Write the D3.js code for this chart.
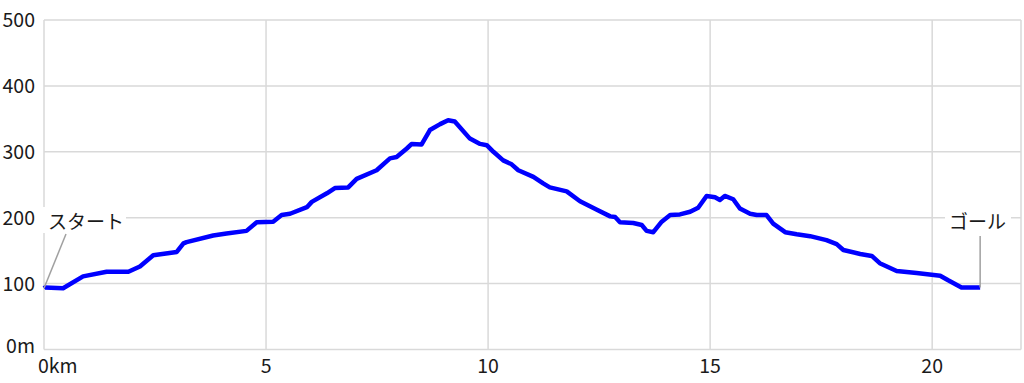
<!DOCTYPE html>
<html>
<head>
<meta charset="utf-8">
<script src="https://cdn.jsdelivr.net/npm/d3@7"></script>
<style>
  body { margin: 0; background: #fff; }
  text { font-family: "Noto Sans CJK JP", "DejaVu Sans", sans-serif; fill: #1a1a1a; }
</style>
</head>
<body>
<div id="chart"></div>
<script>
// course profile: distance (km) and elevation (m)
var distKm = [0, 0.02, 0.43, 0.88, 1.41, 1.90, 2.16, 2.46, 2.99, 3.14, 3.21, 3.81, 4.11, 4.56, 4.79,
  5.16, 5.35, 5.54, 5.92, 6.03, 6.37, 6.55, 6.85, 7.04, 7.49, 7.79, 7.94, 8.17, 8.28, 8.50,
  8.69, 8.92, 9.10, 9.25, 9.59, 9.82, 9.97, 10.12, 10.34, 10.53, 10.68, 11.02, 11.24, 11.39,
  11.77, 12.07, 12.45, 12.75, 12.86, 12.97, 13.27, 13.46, 13.57, 13.72, 13.91, 14.10, 14.32,
  14.55, 14.73, 14.92, 15.11, 15.22, 15.33, 15.52, 15.67, 15.90, 16.05, 16.27, 16.42, 16.69,
  16.95, 17.25, 17.62, 17.85, 18.00, 18.38, 18.64, 18.82, 19.20, 19.65, 20.18, 20.36, 20.66, 21.08]
var elevM = [93, 94, 93, 111, 118, 118, 126, 143, 148, 161, 163, 173, 176, 180, 193,
  194, 204, 206, 216, 224, 237, 245, 246, 259, 272, 290, 292, 305, 312, 311,
  333, 342, 348, 346, 320, 312, 310, 300, 287, 281, 272, 262, 252, 246,
  240, 225, 212, 202, 201, 193, 192, 189, 180, 178, 194, 204, 205,
  209, 215, 233, 231, 227, 233, 228, 214, 206, 204, 204, 191, 178,
  175, 172, 166, 160, 151, 145, 142, 131, 119, 116, 112, 105, 94, 94]

var yTicks = [0, 100, 200, 300, 400, 500]
var yTickLabels = ["0m", "100", "200", "300", "400", "500"]
var xTicks = [0, 5, 10, 15, 20]
var xTickLabels = ["0km", "5", "10", "15", "20"]
var startLabel = "スタート"
var goalLabel = "ゴール"

var width = 1024, height = 383
var plotLeft = 44, plotRight = 1021, plotTop = 20, plotBottom = 349.5

var svg = d3.select("#chart").append("svg")
  .attr("width", width)
  .attr("height", height)

var x = d3.scaleLinear().domain([0, 22]).range([plotLeft, plotRight])
var y = d3.scaleLinear().domain([0, 500]).range([plotBottom, plotTop])

// grid
svg.append("g").selectAll("line")
  .data(yTicks)
  .join("line")
    .attr("x1", plotLeft).attr("x2", plotRight)
    .attr("y1", function(d){ return y(d) }).attr("y2", function(d){ return y(d) })
    .attr("stroke", "#d9d9d9").attr("stroke-width", 1.5)
svg.append("g").selectAll("line")
  .data(xTicks.concat([22]))
  .join("line")
    .attr("y1", plotTop).attr("y2", plotBottom)
    .attr("x1", function(d){ return x(d) }).attr("x2", function(d){ return x(d) })
    .attr("stroke", "#d9d9d9").attr("stroke-width", 1.5)

// tick labels
svg.append("g").selectAll("text")
  .data(yTicks)
  .join("text")
    .attr("x", 35)
    .attr("y", function(d){ return d == 0 ? y(d) - 4 : y(d) })
    .attr("dy", "0.36em")
    .attr("text-anchor", "end")
    .style("font-size", "19.5px")
    .text(function(d, i){ return yTickLabels[i] })
svg.append("g").selectAll("text")
  .data(xTicks)
  .join("text")
    .attr("x", function(d){ return d == 0 ? x(d) - 6 : x(d) })
    .attr("y", 373)
    .attr("text-anchor", function(d){ return d == 0 ? "start" : "middle" })
    .style("font-size", "19.5px")
    .text(function(d, i){ return xTickLabels[i] })

// profile line
var points = distKm.map(function(d, i){ return [d, elevM[i]] })
var line = d3.line()
  .x(function(d){ return x(d[0]) })
  .y(function(d){ return y(d[1]) })
svg.append("path")
  .datum(points)
  .attr("d", line)
  .attr("fill", "none")
  .attr("stroke", "#0000ff")
  .attr("stroke-width", 4.5)
  .attr("stroke-linejoin", "round")

// annotations
var first = points[0], last = points[points.length - 1]
svg.append("line")
  .attr("x1", x(first[0])).attr("y1", y(first[1]))
  .attr("x2", x(first[0]) + 22).attr("y2", 234)
  .attr("stroke", "#a0a0a0").attr("stroke-width", 1.5)
svg.append("rect")
  .attr("x", 40).attr("y", 207).attr("width", 86).attr("height", 26)
  .attr("fill", "#fff")
svg.append("text")
  .attr("x", 48).attr("y", 229)
  .style("font-size", "19px")
  .text(startLabel)

svg.append("line")
  .attr("x1", x(last[0])).attr("y1", y(last[1]))
  .attr("x2", x(last[0])).attr("y2", 236)
  .attr("stroke", "#a0a0a0").attr("stroke-width", 1.5)
svg.append("rect")
  .attr("x", 945).attr("y", 208).attr("width", 66).attr("height", 26)
  .attr("fill", "#fff")
svg.append("text")
  .attr("x", 949).attr("y", 229)
  .style("font-size", "19px")
  .text(goalLabel)
</script>
</body>
</html>
